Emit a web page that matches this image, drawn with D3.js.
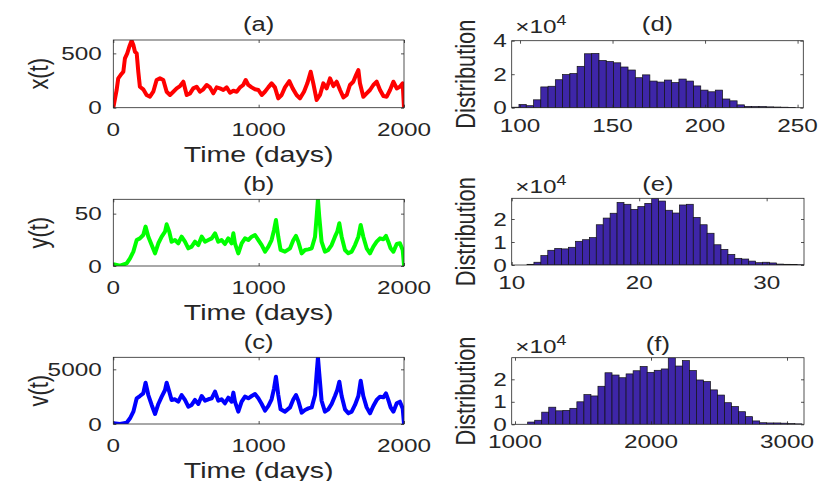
<!DOCTYPE html>
<html><head><meta charset="utf-8">
<script src="https://cdn.jsdelivr.net/npm/d3@7"></script>
<style>
body{margin:0;background:#fff}
svg{display:block}
text{font-family:"Liberation Sans",Arial,Helvetica,sans-serif;fill:#262626}
</style>
</head><body><svg id="c" width="819" height="481"></svg>
<script>
// ---------------- data ----------------
const timeA = [0,23,34,50,69,80,96,110,126,138,149,161,172,183,206,229,252,275,298,321,344,367,390,413,436,459,482,505,528,550,573,596,619,642,665,688,711,734,757,780,803,826,849,872,894,911,929,952,975,998,1021,1043,1066,1089,1112,1135,1158,1181,1211,1234,1261,1284,1312,1335,1358,1376,1399,1422,1445,1468,1491,1514,1537,1560,1583,1606,1628,1651,1670,1686,1697,1720,1743,1766,1789,1812,1835,1858,1881,1904,1927,1950,1972,1991,2000];
const xSeries = [0,163,270,300,331,454,500,561,617,577,515,500,331,193,169,117,101,147,255,270,255,147,117,147,178,199,239,117,132,178,193,147,169,209,187,132,187,178,163,187,138,156,147,187,209,255,209,187,169,163,117,147,187,224,187,86,117,187,245,178,117,86,147,224,331,224,71,117,224,178,270,199,239,163,95,117,209,239,300,347,224,101,132,163,209,239,163,107,101,163,239,178,193,224,0];

const timeBC = [0,46,92,115,138,161,183,206,222,241,264,287,310,333,356,367,385,401,424,447,470,493,516,539,562,585,608,631,654,677,700,722,745,768,791,814,826,837,860,883,906,929,952,975,998,1021,1044,1067,1089,1106,1119,1135,1151,1181,1216,1239,1257,1273,1296,1319,1342,1365,1388,1399,1408,1417,1433,1456,1479,1502,1525,1541,1555,1571,1594,1617,1640,1663,1686,1702,1720,1743,1766,1789,1812,1835,1858,1876,1892,1908,1927,1950,1972,1991,2000];
const ySeries = [1.6,0.3,2.5,7.3,13.7,24.8,26.4,29.6,37.6,28,20,12.1,21.7,28,32.8,39.8,32.8,23.2,24.8,21.7,28,23.2,16.9,18.5,23.2,20,28,23.2,24.8,26.4,31.2,23.2,24.8,21,26.4,21.7,31.2,21.7,12.1,21.7,26.4,24.8,28,29.6,24.8,20,13.7,18.5,24.8,34.4,43.9,28,15.3,13.7,16.9,24.8,28.7,23.2,12.1,15.3,15.9,16.9,28,47.1,63.7,47.1,23.2,13.7,15.3,20,28,32.8,40.8,28,15.3,12.1,13.7,20,28,39.2,28,16.9,12.1,18.5,23.2,26.4,25.5,28.7,23.2,16.9,13.7,21,21.7,15.3,1];
const vSeries = [60,0,120,520,1130,2350,2560,2800,3780,2650,1740,915,1830,2500,3110,3780,2960,2200,2260,2040,2650,2200,1590,1740,2200,1830,2560,2130,2260,2350,2960,2130,2260,1890,2410,2040,2870,2040,1130,2040,2500,2350,2560,2740,2350,1830,1220,1650,2260,3260,4330,2650,1340,1130,1520,2260,2650,2130,1040,1280,1430,1520,2650,4630,6100,4630,2130,1130,1340,1830,2560,3110,3870,2560,1340,975,1130,1740,2560,3960,2560,1520,975,1650,2200,2500,2440,2800,2200,1520,1130,1890,2040,1430,0];

// histogram counts, in units of 10^4
const histX = [0.03,0.19,0.12,0.47,1.24,1.28,1.67,1.98,2.04,2.47,3.22,3.24,2.82,2.76,2.68,2.43,2.25,1.79,1.96,1.59,1.53,1.65,1.50,1.71,1.59,1.30,1.05,0.95,1.05,0.52,0.41,0.17,0.08,0.07,0.07,0.05,0.04,0.03,0.02];
const histXStart = 95.5, histXWidth = 3.93;
const histY = [0.03,0.12,0.41,0.64,0.72,0.70,0.77,1.03,1.10,1.19,1.75,2.04,2.25,2.72,2.64,2.42,2.54,2.68,2.90,2.78,2.38,2.26,2.61,2.64,2.07,1.75,1.38,0.88,0.68,0.46,0.29,0.26,0.17,0.10,0.12,0.09,0.04,0.03,0.02,0.01];
const histYStart = 11.2, histYWidth = 0.5435;
const histV = [0.10,0.18,0.54,0.76,0.60,0.62,0.71,1.00,1.32,1.26,1.69,2.29,2.19,2.07,2.24,2.38,2.57,2.31,2.40,2.46,2.96,2.59,2.83,2.39,1.97,1.90,1.53,1.30,0.96,0.79,0.56,0.34,0.15,0.07,0.06,0.06,0.05,0.03,0.02];
const histVStart = 1093, histVWidth = 51.7;

const timeTicks = [0,1000,2000];
const xTicksA = [0,500], yTicksB = [0,50], vTicksC = [0,5000];
const ticksD = [100,150,200,250], ticksE = [10,20,30], ticksF = [1000,2000,3000];
const countTicksD = [0,2,4], countTicksEF = [0,1,2];
const titles = ["(a)","(b)","(c)","(d)","(e)","(f)"];

// ---------------- drawing ----------------
const svg = d3.select("#c");
const SX = 1.28, SXL = 1.31, INK = "#262626";
const TICK_FS = 19, LABEL_FS = 21.8, TITLE_FS = 20;

function stext(g, x, y, str, fs, anchor, sx) {
  return g.append("text")
    .attr("transform", `translate(${x},${y}) scale(${sx || SX},1)`)
    .attr("font-size", fs).attr("text-anchor", anchor || "middle").text(str);
}
function rtext(g, x, y, str, fs) {
  return g.append("text")
    .attr("transform", `translate(${x},${y}) rotate(-90) scale(1,${SXL})`)
    .attr("font-size", fs).attr("text-anchor", "middle").text(str);
}

let clipId = 0;
function panel(o) {
  const g = svg.append("g");
  const xs = d3.scaleLinear().domain(o.xDom).range([o.l, o.r]);
  const ys = d3.scaleLinear().domain(o.yDom).range([o.b, o.t]);
  const id = "clip" + (clipId++);
  svg.append("clipPath").attr("id", id).append("rect")
    .attr("x", o.l).attr("y", o.t).attr("width", o.r - o.l).attr("height", o.b - o.t);
  const plot = g.append("g").attr("clip-path", `url(#${id})`);
  o.draw(plot, xs, ys);

  const tl = 3;
  const axes = [
    [d3.axisBottom(xs).tickValues(o.xTicks), `translate(0,${o.b})`],
    [d3.axisTop(xs).tickValues(o.xTicks), `translate(0,${o.t})`],
    [d3.axisLeft(ys).tickValues(o.yTicks), `translate(${o.l},0)`],
    [d3.axisRight(ys).tickValues(o.yTicks), `translate(${o.r},0)`]
  ];
  axes.forEach(([ax, tr]) => {
    const a = g.append("g").attr("transform", tr)
      .call(ax.tickSizeInner(-tl).tickSizeOuter(0).tickFormat(""));
    a.select(".domain").remove();
    a.selectAll("line").attr("stroke", INK).attr("stroke-width", 0.8);
  });
  g.append("rect").attr("x", o.l).attr("y", o.t).attr("width", o.r - o.l).attr("height", o.b - o.t)
    .attr("fill", "none").attr("stroke", INK).attr("stroke-width", 0.8);

  o.xTicks.forEach(v => stext(g, xs(v), o.b + o.xLabDy, String(v), TICK_FS, "middle"));
  o.yTicks.forEach(v => stext(g, o.yLabX, ys(v) + 6.5, String(v), TICK_FS, "end"));
  stext(g, (o.l + o.r) / 2, o.t + o.titleDy, o.title, TITLE_FS, "middle");
  if (o.xLabel) stext(g, (o.l + o.r) / 2, o.b + 54, o.xLabel, LABEL_FS, "middle", SXL);
  rtext(g, o.yLabelX, (o.t + o.b) / 2, o.yLabel, LABEL_FS);
  if (o.exp) {
    const t = g.append("text")
      .attr("transform", `translate(${o.l + 3.5},${o.t + o.expDy}) scale(${SX},1)`)
      .attr("font-size", TICK_FS).attr("text-anchor", "start");
    t.append("tspan").text("×10");
    t.append("tspan").attr("font-size", 14).attr("dy", -8).text("4");
  }
}

function linePanel(times, vals, color) {
  return (plot, xs, ys) => {
    const pts = times.map((t, i) => [t, vals[i]]).filter(d => d[1] !== undefined);
    plot.append("path").datum(pts)
      .attr("fill", "none").attr("stroke", color).attr("stroke-width", 4)
      .attr("stroke-linejoin", "round").attr("stroke-linecap", "round")
      .attr("d", d3.line().x(d => xs(d[0])).y(d => ys(d[1])));
  };
}
function histPanel(counts, start, width) {
  return (plot, xs, ys) => {
    plot.selectAll("rect.bar").data(counts).enter().append("rect")
      .attr("x", (d, i) => xs(start + i * width))
      .attr("width", (d, i) => xs(start + (i + 1) * width) - xs(start + i * width))
      .attr("y", d => ys(d)).attr("height", d => ys(0) - ys(d))
      .attr("fill", "#3e26a8").attr("stroke", "#111").attr("stroke-width", 0.7);
  };
}

const left = {l: 113.3, r: 404, xDom: [0, 2000], xTicks: timeTicks, xLabDy: 27.8,
  yLabX: 101.7, yLabelX: 48, xLabel: "Time (days)"};
const right = {l: 511.7, xLabDy: 23.8, yLabX: 506.7, yLabelX: 475, yLabel: "Distribution", exp: true};

panel(Object.assign({}, left, {t: 40, b: 107.7, yDom: [0, 623], yTicks: xTicksA, title: titles[0], titleDy: -9.2,
  yLabel: "x(t)", draw: linePanel(timeA, xSeries, "#ff0000")}));
panel(Object.assign({}, left, {t: 199.3, b: 266, yDom: [0, 63.7], yTicks: yTicksB, title: titles[1], titleDy: -8.5,
  yLabel: "y(t)", draw: linePanel(timeBC, ySeries, "#00ff00")}));
panel(Object.assign({}, left, {t: 357.3, b: 424, yDom: [0, 6100], yTicks: vTicksC, title: titles[2], titleDy: -8.3,
  yLabel: "v(t)", draw: linePanel(timeBC, vSeries, "#0000ff")}));

panel(Object.assign({}, right, {r: 803.3, t: 40.7, b: 107.7, xDom: [95.5, 253.1], xTicks: ticksD, yDom: [0, 4],
  yTicks: countTicksD, title: titles[3], titleDy: -9.9, expDy: -7.4, draw: histPanel(histX, histXStart, histXWidth)}));
panel(Object.assign({}, right, {r: 804, t: 198.3, b: 265, xDom: [10, 32.93], xTicks: ticksE, yDom: [0, 2.9],
  yTicks: countTicksEF, title: titles[4], titleDy: -7.5, expDy: -5, draw: histPanel(histY, histYStart, histYWidth)}));
panel(Object.assign({}, right, {r: 804, t: 357.7, b: 424.3, xDom: [975.7, 3125], xTicks: ticksF, yDom: [0, 2.96],
  yTicks: countTicksEF, title: titles[5], titleDy: -6.9, expDy: -4.4, draw: histPanel(histV, histVStart, histVWidth)}));
</script>
</body></html>
